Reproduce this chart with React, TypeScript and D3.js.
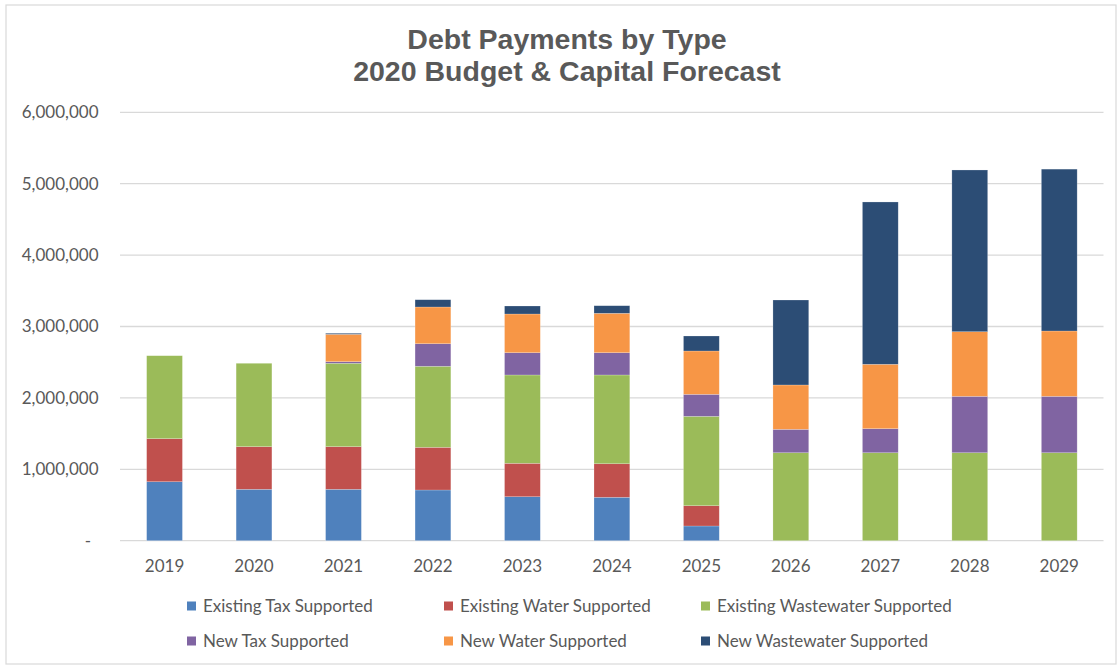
import React from "react";
import * as d3 from "d3";

const years = ["2019", "2020", "2021", "2022", "2023", "2024", "2025", "2026", "2027", "2028", "2029"];
const existingTax = [826000, 720000, 720000, 710000, 616000, 608000, 206000, 0, 0, 0, 0];
const existingWater = [603000, 597000, 597000, 598000, 468000, 470000, 284000, 0, 0, 0, 0];
const existingWastewater = [1162000, 1168000, 1168000, 1135000, 1237000, 1243000, 1252000, 1232000, 1232000, 1232000, 1232000];
const newTax = [0, 0, 22000, 316000, 312000, 312000, 308000, 328000, 337000, 790000, 790000];
const newWater = [0, 0, 384000, 514000, 542000, 552000, 607000, 621000, 902000, 905000, 915000];
const newWastewater = [0, 0, 14000, 102000, 112000, 106000, 210000, 1190000, 2273000, 2265000, 2267000];
const yTicks = [0, 1000000, 2000000, 3000000, 4000000, 5000000, 6000000];

const seriesNames = [
  "Existing Tax Supported",
  "Existing Water Supported",
  "Existing Wastewater Supported",
  "New Tax Supported",
  "New Water Supported",
  "New Wastewater Supported",
];
const seriesValues = [existingTax, existingWater, existingWastewater, newTax, newWater, newWastewater];
const colors = ["#4f81bd", "#c0504d", "#9bbb59", "#8064a2", "#f79646", "#2c4d75"];

const W = 1119;
const H = 667;
const textColor = "#595959";
const labelFont = "Lato, 'Open Sans', sans-serif";

export default function App() {
  const rows = years.map((yr, i) => {
    const r: any = { year: yr };
    seriesNames.forEach((n, k) => (r[n] = seriesValues[k][i]));
    return r;
  });
  const stacked = d3.stack<any>().keys(seriesNames)(rows);

  const x = d3.scaleBand<string>().domain(years).range([119.8, 1104]).paddingInner(0.6).paddingOuter(0.3);
  const y = d3.scaleLinear().domain([0, 6000000]).range([540.7, 112.3]);
  const fmt = d3.format(",");

  const legendCols = [187, 444, 701];
  const legendRows = [606, 641];

  return (
    <div style={{ position: "absolute", left: 0, top: 0 }}>
      <svg width={W} height={H} style={{ display: "block", background: "#fff" }}>
        <rect x={6} y={5} width={W - 9} height={H - 8} fill="#fff" stroke="#d9d9d9" strokeWidth={1.2} />
        <text x={567} y={49} textAnchor="middle" fill={textColor} fontFamily="'Liberation Sans', Arial, sans-serif" fontWeight="bold" fontSize={28.5}>
          Debt Payments by Type
        </text>
        <text x={567} y={81} textAnchor="middle" fill={textColor} fontFamily="'Liberation Sans', Arial, sans-serif" fontWeight="bold" fontSize={28.5}>
          2020 Budget &amp; Capital Forecast
        </text>
        {yTicks.map((t) => (
          <g key={t}>
            <line x1={120} x2={1103.5} y1={y(t)} y2={y(t)} stroke="#d9d9d9" strokeWidth={1.3} />
            <text
              x={t === 0 ? 91 : 98.5}
              y={y(t)}
              dy="0.35em"
              textAnchor="end"
              fill={textColor}
              fontFamily={labelFont}
              fontSize={17}
            >
              {t === 0 ? "-" : fmt(t)}
            </text>
          </g>
        ))}
        {stacked.map((s, k) => (
          <g key={s.key} fill={colors[k]}>
            {s.map((d, i) =>
              d[1] - d[0] > 0 ? (
                <rect
                  key={i}
                  x={x(years[i])}
                  width={x.bandwidth()}
                  y={y(d[1])}
                  height={y(d[0]) - y(d[1])}
                  stroke="#ffffff"
                  strokeOpacity={0.35}
                  strokeWidth={0.6}
                />
              ) : null
            )}
          </g>
        ))}
        {years.map((yr) => (
          <text key={yr} x={(x(yr) as number) + x.bandwidth() / 2} y={572} textAnchor="middle" fill={textColor} fontFamily={labelFont} fontSize={17}>
            {yr}
          </text>
        ))}
        {seriesNames.map((n, k) => {
          const cx = legendCols[k % 3];
          const cy = legendRows[Math.floor(k / 3)];
          return (
            <g key={n}>
              <rect x={cx} y={cy - 4.5} width={9} height={9} fill={colors[k]} />
              <text x={cx + 16} y={cy} dy="0.35em" fill={textColor} fontFamily={labelFont} fontSize={17}>
                {n}
              </text>
            </g>
          );
        })}
      </svg>
    </div>
  );
}
